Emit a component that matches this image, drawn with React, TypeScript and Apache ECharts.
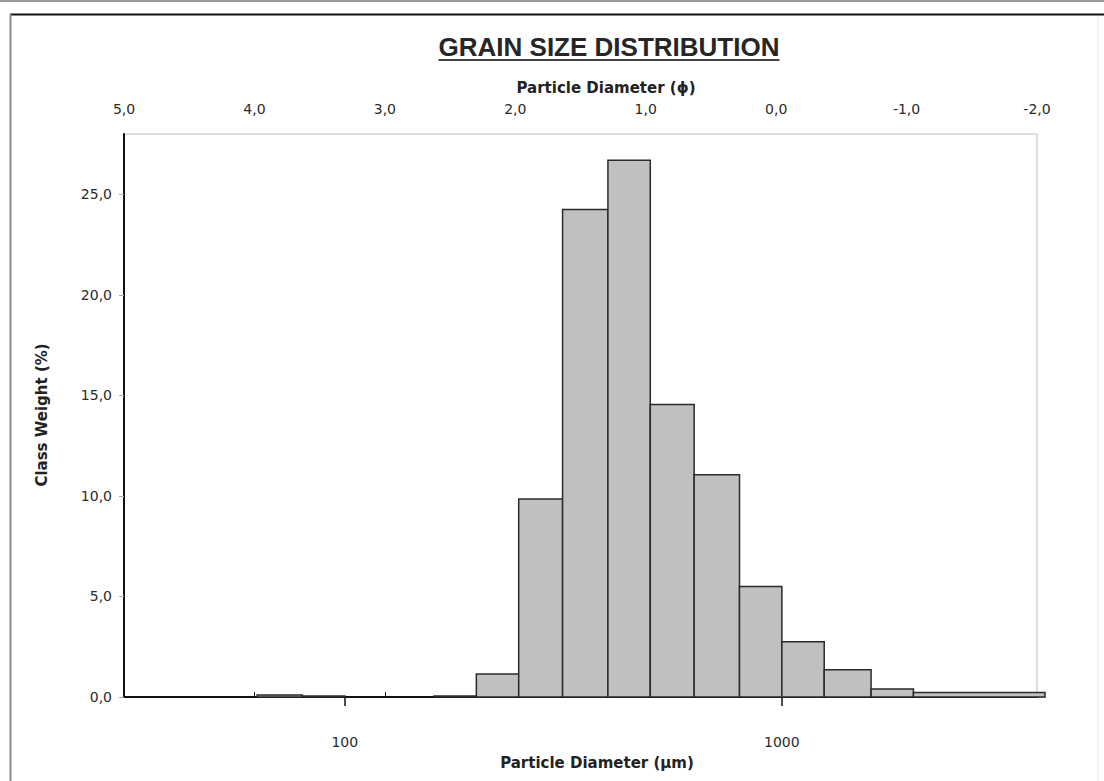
import React, { useEffect, useRef } from 'react';
import * as echarts from 'echarts';

// Sieve classes (µm) and class weights (%)
const binLowerUm = [63, 80, 100, 125, 160, 200, 250, 315, 400, 500, 630, 800, 1000, 1250, 1600, 2000];
const binUpperUm = [80, 100, 125, 160, 200, 250, 315, 400, 500, 630, 800, 1000, 1250, 1600, 2000, 4000];
const classWeight = [0.1, 0.05, 0, 0, 0.05, 1.15, 9.85, 24.25, 26.7, 14.55, 11.05, 5.5, 2.75, 1.35, 0.4, 0.22];

const umTicks = [100, 1000];
const weightTicks = [0, 5, 10, 15, 20, 25];

const titleText = 'GRAIN SIZE DISTRIBUTION';
const topAxisName = 'Particle Diameter (\u03D5)';
const bottomAxisName = 'Particle Diameter (\u00B5m)';
const yAxisName = 'Class Weight (%)';

const comma = (v: number) => v.toFixed(1).replace('.', ',');

function measure(text: string, font: string) {
  const c = document.createElement('canvas');
  const ctx = c.getContext('2d')!;
  ctx.font = font;
  return ctx.measureText(text).width;
}

export default function App() {
  const ref = useRef<HTMLDivElement>(null);
  useEffect(() => {
    if (!ref.current) return;
    const chart = echarts.init(ref.current, undefined, { renderer: 'svg' });
    const titleFont = 'bold 26px "Liberation Sans"';
    const tw = measure(titleText, titleFont);
    const titleCx = 609;
    const data = binLowerUm.map((lo, i) => [lo, binUpperUm[i], classWeight[i]]);
    const labelStyle = { fontFamily: 'DejaVu Sans', fontSize: 14, color: '#2a2a2a' };
    const nameStyle = { fontFamily: 'DejaVu Sans', fontSize: 15, fontWeight: 'bold', fill: '#222' };

    chart.setOption({
      animation: false,
      backgroundColor: '#fff',
      grid: [
        { left: 124, right: 59, top: 134, bottom: 84, show: false },
        { left: 124, right: 67, top: 134, bottom: 84, show: true, borderColor: '#d4d4d4', borderWidth: 1.5, backgroundColor: 'transparent' },
      ],
      xAxis: [
        {
          type: 'log', gridIndex: 0, logBase: 10, min: 31.25, max: 4000, position: 'bottom',
          axisLine: { show: true, lineStyle: { color: '#b0b0b0', width: 1.5 } },
          axisTick: { show: true, customValues: umTicks, length: 9, lineStyle: { color: '#111', width: 1.5 } },
          axisLabel: { customValues: umTicks, margin: 38, ...labelStyle, formatter: (v: number) => String(Math.round(v)) },
          splitLine: { show: false }, minorTick: { show: false },
        },
        {
          type: 'value', gridIndex: 1, position: 'top', inverse: true, min: -2, max: 5, interval: 1,
          axisLine: { show: true, lineStyle: { color: '#111', width: 2 } },
          axisTick: { show: true, length: 5, lineStyle: { color: '#111', width: 1 } },
          axisLabel: { margin: 18, ...labelStyle, formatter: (v: number) => comma(v) },
          splitLine: { show: false },
        },
      ],
      yAxis: [
        {
          type: 'value', gridIndex: 0, min: 0, max: 28,
          axisLine: { show: true, lineStyle: { color: '#111', width: 2 } },
          axisTick: { show: true, customValues: weightTicks, length: 5, lineStyle: { color: '#aaa', width: 1 } },
          axisLabel: { customValues: weightTicks, margin: 12, ...labelStyle, formatter: (v: number) => comma(v) },
          splitLine: { show: false },
        },
        { type: 'value', gridIndex: 1, min: 0, max: 28, show: false },
      ],
      series: [
        {
          type: 'custom', xAxisIndex: 0, yAxisIndex: 0, clip: false,
          encode: { x: [0, 1], y: 2 },
          data,
          renderItem: (params: any, api: any) => {
            const lo = api.value(0), hi = api.value(1), v = api.value(2);
            if (!(v > 0)) return null;
            const p0 = api.coord([lo, 0]);
            const p1 = api.coord([hi, v]);
            return {
              type: 'rect',
              shape: { x: p0[0], y: p1[1], width: p1[0] - p0[0], height: p0[1] - p1[1] },
              style: { fill: '#c0c0c0', stroke: '#2a2a2a', lineWidth: 1.5 },
            };
          },
        },
      ],
      graphic: [
        { type: 'line', shape: { x1: 0, y1: 1, x2: 1104, y2: 1 }, style: { stroke: '#9a9a9a', lineWidth: 2 } },
        { type: 'line', shape: { x1: 10, y1: 14.5, x2: 1104, y2: 14.5 }, style: { stroke: '#111', lineWidth: 2 } },
        { type: 'line', shape: { x1: 10.5, y1: 14, x2: 10.5, y2: 781 }, style: { stroke: '#8a8a8a', lineWidth: 2 } },
        { type: 'line', shape: { x1: 1098, y1: 16, x2: 1098, y2: 781 }, style: { stroke: '#eeeeee', lineWidth: 1 } },
        {
          type: 'text', x: titleCx, y: 47,
          style: { text: titleText, font: titleFont, fill: '#262626', align: 'center', verticalAlign: 'middle' },
        },
        { type: 'line', shape: { x1: titleCx - tw / 2, y1: 60, x2: titleCx + tw / 2, y2: 60 }, style: { stroke: '#444', lineWidth: 2 } },
        {
          type: 'text', x: 606, y: 88,
          style: { text: topAxisName, ...nameStyle, align: 'center', verticalAlign: 'middle' },
        },
        {
          type: 'text', x: 597, y: 763,
          style: { text: bottomAxisName, ...nameStyle, align: 'center', verticalAlign: 'middle' },
        },
        {
          type: 'text', x: 42, y: 415, rotation: Math.PI / 2,
          style: { text: yAxisName, ...nameStyle, align: 'center', verticalAlign: 'middle' },
        },
      ],
    });
    return () => chart.dispose();
  }, []);
  return (
    <div
      ref={ref}
      style={{ position: 'fixed', left: 0, top: 0, width: 1104, height: 781, background: '#fff' }}
    />
  );
}
